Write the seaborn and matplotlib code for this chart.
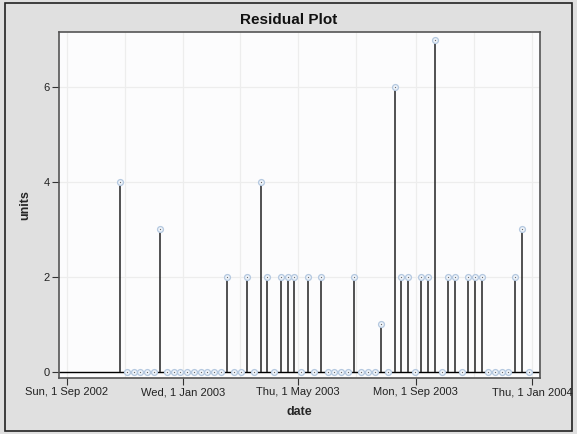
import matplotlib
matplotlib.use("Agg")
import matplotlib.pyplot as plt
import matplotlib.dates as mdates
import matplotlib.patches as mpatches
import seaborn as sns
import pandas as pd

dates = [
    "2002-10-27", "2002-11-03", "2002-11-10", "2002-11-17", "2002-11-24",
    "2002-12-01", "2002-12-08", "2002-12-15", "2002-12-22", "2002-12-29",
    "2003-01-05", "2003-01-12", "2003-01-19", "2003-01-26",
    "2003-02-02", "2003-02-09", "2003-02-16", "2003-02-23",
    "2003-03-02", "2003-03-09", "2003-03-16", "2003-03-23", "2003-03-30",
    "2003-04-06", "2003-04-13", "2003-04-20", "2003-04-27",
    "2003-05-04", "2003-05-11", "2003-05-18", "2003-05-25",
    "2003-06-01", "2003-06-08", "2003-06-15", "2003-06-22", "2003-06-29",
    "2003-07-06", "2003-07-13", "2003-07-20", "2003-07-27",
    "2003-08-03", "2003-08-10", "2003-08-17", "2003-08-24", "2003-08-31",
    "2003-09-07", "2003-09-14", "2003-09-21", "2003-09-28",
    "2003-10-05", "2003-10-12", "2003-10-19", "2003-10-26",
    "2003-11-02", "2003-11-09", "2003-11-16", "2003-11-23", "2003-11-30",
    "2003-12-07", "2003-12-14", "2003-12-21", "2003-12-28",
]
units = [
    4, 0, 0, 0, 0, 0, 3, 0, 0, 0,
    0, 0, 0, 0, 0, 0, 2, 0, 0, 2,
    0, 4, 2, 0, 2, 2, 2, 0, 2, 0,
    2, 0, 0, 0, 0, 2, 0, 0, 0, 1,
    0, 6, 2, 2, 0, 2, 2, 7, 0, 2,
    2, 0, 2, 2, 2, 0, 0, 0, 0, 2,
    3, 0,
]
xticks = ["2002-09-01", "2003-01-01", "2003-05-01", "2003-09-01", "2004-01-01"]
grid_dates = ["2002-09-01", "2002-11-01", "2003-01-01", "2003-03-01", "2003-05-01",
              "2003-07-01", "2003-09-01", "2003-11-01", "2004-01-01"]
yticks = [0, 2, 4, 6]

df = pd.DataFrame({"date": pd.to_datetime(dates), "units": units})

sns.set_style("white")
plt.rcParams["font.family"] = ["Liberation Sans", "DejaVu Sans"]

fig = plt.figure(figsize=(5.77, 4.34), dpi=100, facecolor="#e0e0e0")
ax = fig.add_axes([0.1031, 0.1297, 0.9359 - 0.1031, 0.9263 - 0.1297])
ax.set_facecolor("#fcfcfd")

# grid lines
for g in pd.to_datetime(grid_dates):
    ax.axvline(g, color="#ededed", lw=0.9, zorder=0)
for y in yticks:
    ax.axhline(y, color="#ededed", lw=0.9, zorder=0)

# reference line at zero
ax.axhline(0, color="black", lw=1.0, zorder=1)

# stems
ax.vlines(df["date"], 0, df["units"], color="#222222", lw=1.1, zorder=2)

# markers
sns.scatterplot(data=df, x="date", y="units", ax=ax, marker="o", s=18,
                facecolor="#eef3f9", edgecolor="#b4c8e0", linewidth=0.9,
                zorder=3, legend=False)
ax.scatter(df["date"], df["units"], s=0.8, color="#666666", zorder=4,
           linewidths=0)

ax.set_xlim(pd.Timestamp("2002-08-24 12:00"), pd.Timestamp("2004-01-09"))
ax.set_ylim(-0.13, 7.17)

ax.set_xticks(pd.to_datetime(xticks))
ax.xaxis.set_major_formatter(mdates.DateFormatter("%a, %-d %b %Y"))
ax.set_yticks(yticks)
ax.tick_params(axis="both", direction="out", length=5, width=0.8,
               color="#333333", labelsize=8, labelcolor="#222222",
               bottom=True, left=True, pad=2)

for s in ax.spines.values():
    s.set_color("#555555")
    s.set_linewidth(1.2)

ax.set_xlabel("date", fontsize=9, fontweight="bold", labelpad=6)
ax.set_ylabel("units", fontsize=9, fontweight="bold", labelpad=9)
fig.text(0.5, 0.953, "Residual Plot", ha="center", va="center",
         fontsize=11, fontweight="bold", color="#111111")

# outer border
fig.patches.append(mpatches.Rectangle((0.009, 0.006), 0.982, 0.988,
                                      transform=fig.transFigure, fill=False,
                                      edgecolor="#222222", lw=1.2))

fig.savefig("out.png", dpi=100, facecolor=fig.get_facecolor())
